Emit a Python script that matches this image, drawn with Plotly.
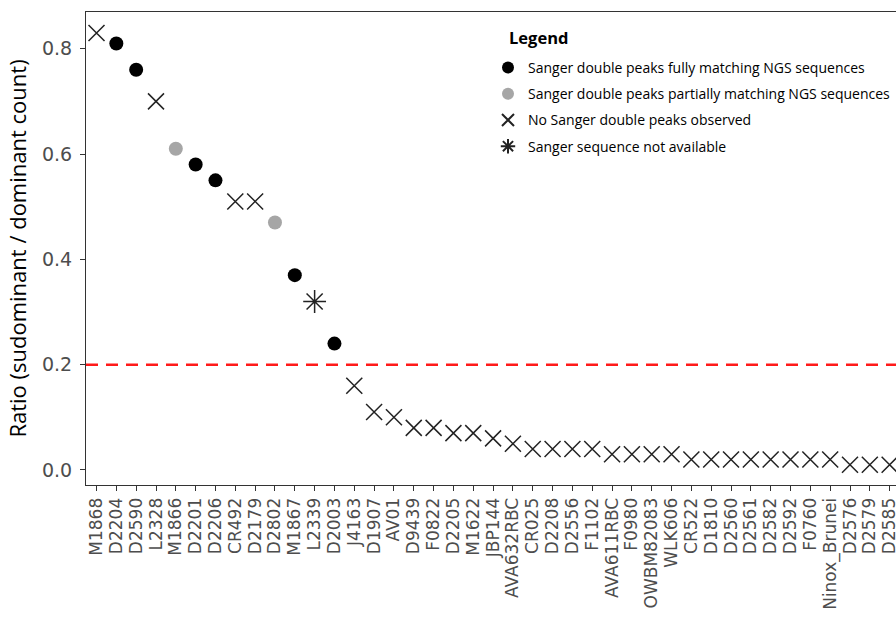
import plotly.graph_objects as go

samples = ["M1868", "D2204", "D2590", "L2328", "M1866", "D2201", "D2206", "CR492", "D2179", "D2802",
           "M1867", "L2339", "D2003", "J4163", "D1907", "AV01", "D9439", "F0822", "D2205", "M1622",
           "JBP144", "AVA632RBC", "CR025", "D2208", "D2556", "F1102", "AVA611RBC", "F0980", "OWBM82083", "WLK606",
           "CR522", "D1810", "D2560", "D2561", "D2582", "D2592", "F0760", "Ninox_Brunei", "D2576", "D2579", "D2585"]
ratios = [0.83, 0.81, 0.76, 0.70, 0.61, 0.58, 0.55, 0.51, 0.51, 0.47,
          0.37, 0.32, 0.24, 0.16, 0.11, 0.10, 0.08, 0.08, 0.07, 0.07,
          0.06, 0.05, 0.04, 0.04, 0.04, 0.04, 0.03, 0.03, 0.03, 0.03,
          0.02, 0.02, 0.02, 0.02, 0.02, 0.02, 0.02, 0.02, 0.01, 0.01, 0.01]
status = ["none", "full", "full", "none", "partial", "full", "full", "none", "none", "partial",
          "full", "na", "full"] + ["none"] * 28
threshold = 0.2

groups = [
    ("full", "Sanger double peaks fully matching NGS sequences", "circle", "black", 14, 0),
    ("partial", "Sanger double peaks partially matching NGS sequences", "circle", "#a6a6a6", 14, 0),
    ("none", "No Sanger double peaks observed", "x-thin-open", "#222222", 16, 1.5),
    ("na", "Sanger sequence not available", "asterisk-open", "#222222", 19, 1.5),
]

fig = go.Figure()
for key, name, sym, col, size, lw in groups:
    xs = [s for s, st in zip(samples, status) if st == key]
    ys = [r for r, st in zip(ratios, status) if st == key]
    fig.add_trace(go.Scatter(
        x=xs, y=ys, mode="markers", name=name, legendgroup=key,
        marker=dict(symbol=sym, color=col, size=size,
                    line=dict(color=col, width=lw)),
    ))

fig.add_hline(y=threshold, line=dict(color="#ff1a1a", width=2.5, dash="12px,8px"))

fig.add_annotation(text="<b>Legend</b>", xref="paper", yref="paper",
                   x=(507 - 86) / 810, y=(485 - 37) / 473, xanchor="left", yanchor="middle",
                   showarrow=False, font=dict(family="Open Sans, sans-serif", size=16.5, color="black"))

fig.update_layout(
    width=896, height=626,
    margin=dict(l=86, r=0, t=12, b=141),
    plot_bgcolor="white", paper_bgcolor="white",
    font=dict(family="DejaVu Sans, sans-serif", color="#4d4d4d"),
    showlegend=True,
    legend=dict(
        font=dict(family="Open Sans, sans-serif", size=14, color="black"),
        x=(488 - 86) / 810, y=(485 - 52) / 473, xanchor="left", yanchor="top",
        bgcolor="rgba(0,0,0,0)", tracegroupgap=5, itemsizing="constant", itemwidth=30,
    ),
)
fig.update_xaxes(
    type="category", categoryorder="array", categoryarray=samples,
    tickmode="linear", tick0=0, dtick=1,
    range=[-0.53, 40.32], tickangle=-90, automargin=False,
    tickfont=dict(size=17, color="#4d4d4d"),
    showline=True, linecolor="#333333", linewidth=1, mirror=True,
    ticks="outside", ticklen=5, tickcolor="#333333",
    showgrid=False, zeroline=False,
)
fig.update_yaxes(
    range=[-0.0285, 0.8697], tickvals=[0, 0.2, 0.4, 0.6, 0.8],
    ticktext=["0.0", "0.2", "0.4", "0.6", "0.8"], automargin=False,
    tickfont=dict(size=19, color="#4d4d4d"), ticklabelstandoff=4,
    title=dict(text="Ratio (sudominant / dominant count)",
               font=dict(family="Open Sans, sans-serif", size=22, color="black"), standoff=9),
    showline=True, linecolor="#333333", linewidth=1, mirror=False,
    ticks="outside", ticklen=5, tickcolor="#333333",
    showgrid=False, zeroline=False,
)

fig.write_html("out.html", config={"displayModeBar": False},
               post_script="document.body.style.margin='0';")
